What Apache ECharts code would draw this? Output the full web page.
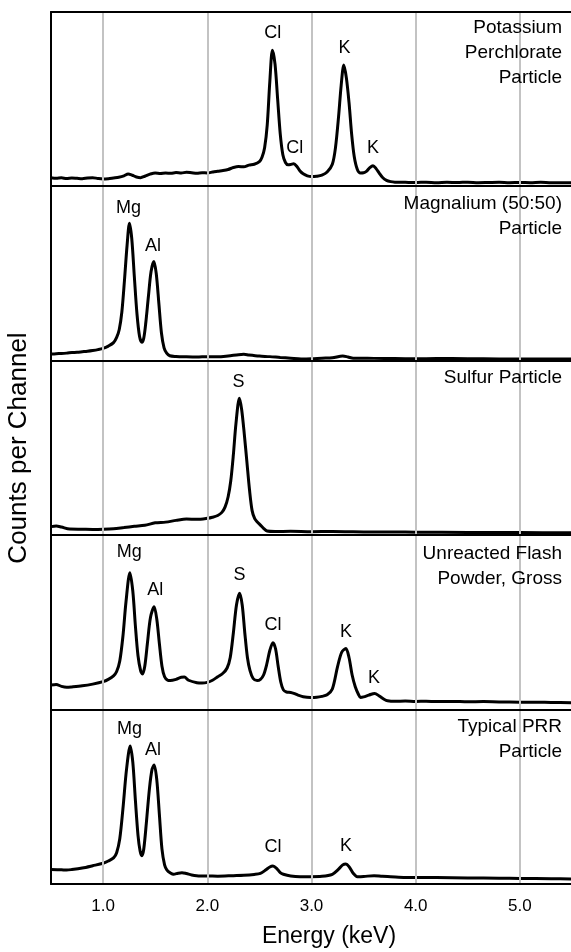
<!DOCTYPE html>
<html>
<head>
<meta charset="utf-8">
<script src="https://cdn.jsdelivr.net/npm/echarts@6/dist/echarts.min.js"></script>
<style>
html, body { margin: 0; padding: 0; background: #fff; }
#main { width: 571px; height: 952px; }
</style>
</head>
<body>
<div id="main"></div>
<script>
// gridlines / tick labels (keV)
var energyTicks = [1, 2, 3, 4, 5];

var panelNames = [
    'Potassium\nPerchlorate\nParticle',
    'Magnalium (50:50)\nParticle',
    'Sulfur Particle',
    'Unreacted Flash\nPowder, Gross',
    'Typical PRR\nParticle'
];

// spectra: [energy keV, counts as % of panel height]
var perchlorate = [[0.50,4.8],[0.55,4.5],[0.60,4.7],[0.65,4.3],[0.70,4.6],[0.75,4.4],[0.80,4.2],[0.85,4.6],[0.90,4.8],[0.95,4.3],
    [1.00,4.0],[1.05,4.2],[1.10,4.6],[1.15,5.0],[1.20,5.8],[1.24,6.9],[1.28,6.2],[1.32,5.2],[1.36,4.8],[1.40,5.6],[1.45,6.8],
    [1.50,7.5],[1.55,7.2],[1.60,7.4],[1.65,7.3],[1.70,7.7],[1.75,7.5],[1.80,7.9],[1.85,7.6],[1.90,7.3],[1.95,7.6],[2.00,7.5],
    [2.05,8.0],[2.10,8.5],[2.15,8.9],[2.20,9.5],[2.25,10.6],[2.30,11.2],[2.35,11.0],[2.40,12.0],[2.45,12.5],[2.50,14.0],
    [2.525,16.5],[2.55,22],[2.575,35],[2.60,60],[2.625,78],[2.65,70],[2.675,50],[2.70,30],[2.725,18],[2.75,13.5],[2.775,12.2],
    [2.80,12.4],[2.83,12.8],[2.86,11.2],[2.89,8.6],[2.92,7.0],[2.96,5.8],[3.00,5.4],[3.05,5.6],[3.10,6.2],[3.15,8.0],[3.20,12.5],
    [3.23,22],[3.26,40],[3.285,58],[3.31,69.5],[3.335,62],[3.36,48],[3.385,30],[3.41,17],[3.44,9.5],[3.47,7.5],[3.50,7.6],
    [3.53,8.6],[3.56,10.6],[3.59,11.7],[3.62,10.0],[3.65,7.4],[3.68,5.0],[3.72,3.2],[3.76,2.5],[3.80,2.2],[3.90,2.1],[4.00,2.0],
    [4.10,2.2],[4.20,1.9],[4.30,2.1],[4.40,2.0],[4.50,2.2],[4.60,1.9],[4.70,2.0],[4.80,2.1],[4.90,1.9],[5.00,2.0],[5.10,1.9],
    [5.20,2.1],[5.30,1.9],[5.40,1.9],[5.50,1.8]];

var magnalium = [[0.50,4.0],[0.55,4.2],[0.60,4.3],[0.65,4.5],[0.70,4.8],[0.75,5.0],[0.80,5.3],[0.85,5.6],[0.90,6.0],[0.95,6.5],
    [1.00,7.2],[1.05,8.5],[1.10,10.5],[1.13,13.5],[1.155,18],[1.18,28],[1.205,46],[1.23,66],[1.253,78.7],[1.275,70],[1.30,48],
    [1.325,27],[1.35,14],[1.372,10.7],[1.39,13],[1.41,22],[1.435,37],[1.46,51],[1.487,56.8],[1.51,50],[1.535,33],[1.56,16],
    [1.585,7.5],[1.61,4.5],[1.64,3.0],[1.70,2.6],[1.80,2.4],[1.90,2.3],[2.00,2.5],[2.10,2.4],[2.20,2.9],[2.30,3.6],[2.35,3.8],
    [2.40,3.4],[2.50,2.8],[2.60,2.5],[2.70,2.0],[2.80,1.6],[2.90,1.2],[3.00,1.3],[3.10,1.6],[3.20,1.8],[3.30,2.9],[3.35,2.3],
    [3.40,1.6],[3.60,1.5],[3.80,1.4],[4.00,1.3],[4.20,1.4],[4.50,1.3],[4.80,1.2],[5.00,1.2],[5.20,1.1],[5.50,1.1]];

var sulfur = [[0.50,4.8],[0.55,5.2],[0.60,4.6],[0.68,3.4],[0.80,3.3],[0.90,3.2],[1.00,3.3],[1.10,3.6],[1.20,4.3],[1.30,5.0],
    [1.40,5.6],[1.50,7.0],[1.60,7.4],[1.70,8.4],[1.80,9.2],[1.90,9.0],[2.00,9.6],[2.05,10.2],[2.10,11.2],[2.14,13],[2.17,16],
    [2.20,22],[2.225,31],[2.25,46],[2.275,64],[2.308,78.6],[2.33,72],[2.355,58],[2.38,42],[2.405,26],[2.43,14],[2.455,9.4],
    [2.48,7.5],[2.51,5.7],[2.54,3.8],[2.574,2.3],[2.65,2.0],[2.80,2.1],[3.00,1.9],[3.20,2.0],[3.40,1.8],[3.60,1.7],[3.80,1.7],
    [4.00,1.6],[4.50,1.5],[5.00,1.4],[5.50,1.3]];

var flash = [[0.50,14.3],[0.55,14.6],[0.60,13.5],[0.65,13.0],[0.70,13.2],[0.80,13.8],[0.90,14.8],[1.00,16.2],[1.05,17.5],
    [1.10,19.5],[1.13,22],[1.16,28],[1.19,42],[1.22,62],[1.257,78.5],[1.285,68],[1.31,48],[1.335,31],[1.36,22.5],[1.378,20.6],
    [1.40,25],[1.425,38],[1.455,53],[1.49,59],[1.515,52],[1.54,38],[1.565,25],[1.59,19],[1.62,17],[1.644,16.8],[1.70,17.5],
    [1.75,18.7],[1.78,18.8],[1.82,17],[1.90,15.6],[1.95,15.4],[2.00,15.8],[2.05,17],[2.10,19],[2.15,21],[2.19,24],[2.22,30],
    [2.25,44],[2.28,60],[2.31,66.7],[2.335,60],[2.36,44],[2.385,30],[2.41,22.5],[2.44,18],[2.478,16.8],[2.51,17.5],[2.54,20],
    [2.57,26],[2.60,34],[2.63,38.5],[2.655,35],[2.68,25],[2.705,16],[2.73,11.5],[2.76,10.3],[2.80,10],[2.83,9.5],[2.87,8.5],
    [2.92,7.6],[2.99,7.2],[3.05,7.3],[3.10,7.8],[3.15,8.7],[3.20,12],[3.25,24.8],[3.29,33],[3.33,35.2],[3.36,30],[3.39,20],
    [3.42,13.3],[3.45,9],[3.47,7.2],[3.50,7.5],[3.55,8.5],[3.606,9.5],[3.65,8],[3.70,6],[3.73,5.3],[3.80,5.0],[3.90,5.1],
    [4.00,4.9],[4.10,5.0],[4.20,4.8],[4.35,4.9],[4.50,4.7],[4.65,4.8],[4.80,4.6],[5.00,4.5],[5.15,4.5],[5.30,4.3],[5.50,4.2]];

var prr = [[0.50,8.4],[0.60,8.2],[0.65,8.0],[0.70,8.3],[0.80,9.2],[0.90,10.5],[1.00,11.9],[1.05,13.2],[1.10,15],[1.13,18],
    [1.16,26],[1.19,43],[1.225,66],[1.26,79.3],[1.285,70],[1.31,48],[1.335,28],[1.355,19],[1.372,16.3],[1.39,20],[1.415,35],
    [1.445,55],[1.47,66],[1.49,68.4],[1.515,60],[1.54,40],[1.565,20],[1.59,11],[1.613,8],[1.65,6.2],[1.676,5.6],[1.72,6.2],
    [1.757,6.5],[1.80,6.0],[1.85,5.2],[1.93,4.6],[2.00,4.6],[2.10,4.5],[2.25,4.8],[2.35,5.0],[2.45,5.5],[2.51,6.1],[2.56,8],
    [2.60,9.8],[2.63,10.3],[2.665,9],[2.70,6.5],[2.73,5.6],[2.80,4.6],[2.89,4.2],[2.99,4.2],[3.10,4.4],[3.20,5.6],[3.26,8.5],
    [3.30,11],[3.33,11.5],[3.36,10],[3.40,6.2],[3.44,4.2],[3.50,4.3],[3.60,4.8],[3.68,4.4],[3.76,4.2],[3.90,3.8],[4.00,3.8],
    [4.20,3.7],[4.50,3.5],[4.80,3.3],[5.00,3.2],[5.30,3.0],[5.50,2.9]];

// peak labels: [energy, height %, element]
var perchlorateLabels = [[2.628, 88, 'Cl'], [3.317, 79.3, 'K'], [2.84, 21.8, 'Cl'], [3.59, 21.8, 'K']];
var magnaliumLabels = [[1.243, 87.2, 'Mg'], [1.478, 65.7, 'Al']];
var sulfurLabels = [[2.30, 87.8, 'S']];
var flashLabels = [[1.25, 90.3, 'Mg'], [1.50, 68.6, 'Al'], [2.31, 77, 'S'], [2.63, 48.6, 'Cl'], [3.33, 44.7, 'K'], [3.60, 18.1, 'K']];
var prrLabels = [[1.253, 88.9, 'Mg'], [1.478, 77, 'Al'], [2.63, 21.4, 'Cl'], [3.33, 21.8, 'K']];

var spectra = [perchlorate, magnalium, sulfur, flash, prr];
var peakLabels = [perchlorateLabels, magnaliumLabels, sulfurLabels, flashLabels, prrLabels];

var FONT = '"Liberation Sans", Arial, sans-serif';
var panelTops = [12, 186, 361, 535, 710];
var panelHeights = [174, 175, 174, 175, 174];
var nameTops = [15.5, 191.5, 365, 541.5, 714];

function draw_chart(){
    var chart = echarts.init(document.getElementById('main'));

    var grids = [], xAxes = [], yAxes = [], series = [], titles = [];

    for (var i = 0; i < spectra.length; i++) {
        grids.push({
            left: 51, right: -1, top: panelTops[i], height: panelHeights[i],
            containLabel: false, outerBoundsMode: 'none'
        });

        xAxes.push({
            type: 'value', gridIndex: i, min: 0.5, max: 5.5, interval: 0.5, z: 10,
            axisLine: { show: true, onZero: false, lineStyle: { color: '#000', width: 2 } },
            axisTick: { show: false },
            splitLine: { show: false },
            axisLabel: {
                show: i == spectra.length - 1,
                margin: 14,
                color: '#000',
                fontSize: 17,
                fontFamily: FONT,
                formatter: function(v){
                    return energyTicks.indexOf(v) >= 0 ? v.toFixed(1) : '';
                }
            }
        });

        yAxes.push({
            type: 'value', gridIndex: i, min: 0, max: 100, z: 10,
            axisLine: { show: true, onZero: false, lineStyle: { color: '#000', width: 2 } },
            axisTick: { show: false },
            splitLine: { show: false },
            axisLabel: { show: false },
            name: i == 2 ? 'Counts per Channel' : '',
            nameLocation: 'middle',
            nameGap: 19,
            nameTextStyle: { color: '#000', fontSize: 26, fontFamily: FONT }
        });

        // vertical grid lines
        series.push({
            type: 'line', xAxisIndex: i, yAxisIndex: i, data: [], z: 1, silent: true,
            markLine: {
                silent: true, symbol: 'none', animation: false,
                label: { show: false },
                lineStyle: { color: '#c3c3c3', width: 2, type: 'solid' },
                data: energyTicks.map(function(t){ return { xAxis: t }; })
            }
        });

        series.push({
            type: 'line', xAxisIndex: i, yAxisIndex: i, z: 3,
            data: spectra[i],
            showSymbol: false,
            smooth: 0.3,
            lineStyle: { color: '#000', width: 3 },
            animation: false
        });

        series.push({
            type: 'scatter', xAxisIndex: i, yAxisIndex: i, z: 4,
            data: peakLabels[i],
            symbolSize: 0,
            itemStyle: { opacity: 1 },
            label: {
                show: true,
                position: 'inside',
                color: '#000',
                opacity: 1,
                fontSize: 18,
                fontFamily: FONT,
                formatter: function(p){ return p.value[2]; }
            },
            animation: false
        });

        titles.push({
            text: panelNames[i],
            left: 562,
            textAlign: 'right',
            top: nameTops[i],
            padding: 0,
            textStyle: { color: '#000', fontSize: 19, fontWeight: 'normal', fontFamily: FONT, lineHeight: 25, align: 'right' }
        });
    }

    // top border of first panel
    xAxes.push({
        type: 'value', gridIndex: 0, position: 'top', min: 0.5, max: 5.5, z: 10,
        axisLine: { show: true, onZero: false, lineStyle: { color: '#000', width: 2 } },
        axisTick: { show: false }, axisLabel: { show: false }, splitLine: { show: false }
    });

    var option = {
        backgroundColor: '#fff',
        animation: false,
        title: titles,
        grid: grids,
        xAxis: xAxes,
        yAxis: yAxes,
        series: series,
        graphic: [{
            type: 'text', x: 329, y: 937,
            style: { text: 'Energy (keV)', fontSize: 23, fontFamily: FONT, fill: '#000', align: 'center', verticalAlign: 'middle' }
        }]
    };

    chart.setOption(option);
}

draw_chart();
</script>
</body>
</html>
